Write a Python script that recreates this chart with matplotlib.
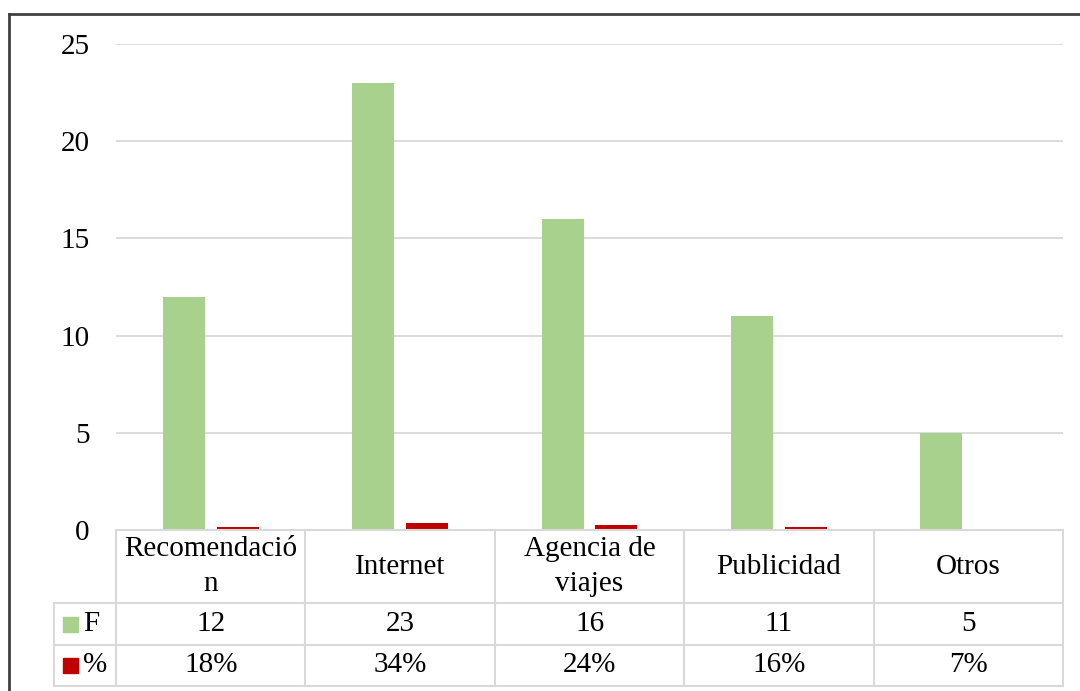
import matplotlib
matplotlib.use("Agg")
import matplotlib.pyplot as plt
import numpy as np
from matplotlib.patches import Rectangle
from matplotlib.lines import Line2D

categories = ["Recomendació\nn", "Internet", "Agencia de\nviajes", "Publicidad", "Otros"]
freq = [12, 23, 16, 11, 5]
pct = [0.18, 0.34, 0.24, 0.16, 0.07]
pct_labels = ["18%", "34%", "24%", "16%", "7%"]
series_names = ["F", "%"]
yticks = [0, 5, 10, 15, 20, 25]

GREEN = "#a9d18e"
RED = "#c00000"
GRID = "#d9d9d9"
FONT = "Liberation Serif"
FS = 21

W, H = 1080, 691
fig = plt.figure(figsize=(W / 100, H / 100), dpi=100)

def fx(px):
    return px / W

def fy(py):
    return 1 - py / H

left, right, top, bottom = 116, 1063, 44, 530
ax = fig.add_axes([fx(left), fy(bottom), fx(right) - fx(left), fy(top) - fy(bottom)])
x = np.arange(len(categories))
bw = 0.222
off = 0.142
ax.bar(x - off, freq, width=bw, color=GREEN, zorder=3)
ax.bar(x + off, pct, width=bw, color=RED, zorder=3)
ax.set_xlim(-0.5, len(categories) - 0.5)
ax.set_ylim(0, 25)
ax.set_yticks(yticks)
ax.set_yticklabels([str(v) for v in yticks], fontfamily=FONT, fontsize=FS)
ax.tick_params(axis="y", length=0, pad=19)
ax.set_xticks([])
for s in ax.spines.values():
    s.set_visible(False)
ax.yaxis.grid(True, color=GRID, linewidth=1.3, zorder=0)
ax.set_axisbelow(True)

# table
rows_y = [530, 603, 645, 686]
col_x = [left + i * (right - left) / 5 for i in range(6)]
lab_left = 54
lw = 1.5
fig.add_artist(Line2D([fx(left), fx(right)], [fy(rows_y[0])] * 2, color=GRID, lw=lw))
for yy in rows_y[1:]:
    fig.add_artist(Line2D([fx(lab_left), fx(right)], [fy(yy)] * 2, color=GRID, lw=lw))
fig.add_artist(Line2D([fx(lab_left)] * 2, [fy(rows_y[1]), fy(rows_y[3])], color=GRID, lw=lw))
for cx in col_x:
    fig.add_artist(Line2D([fx(cx)] * 2, [fy(rows_y[0]), fy(rows_y[3])], color=GRID, lw=lw))

for i, cat in enumerate(categories):
    cx = (col_x[i] + col_x[i + 1]) / 2
    fig.text(fx(cx), fy((rows_y[0] + rows_y[1]) / 2), cat, ha="center", va="center",
             fontfamily=FONT, fontsize=FS, linespacing=1.42)
    fig.text(fx(cx), fy((rows_y[1] + rows_y[2]) / 2), str(freq[i]), ha="center", va="center",
             fontfamily=FONT, fontsize=FS)
    fig.text(fx(cx), fy((rows_y[2] + rows_y[3]) / 2), pct_labels[i], ha="center", va="center",
             fontfamily=FONT, fontsize=FS)

for r, (name, col) in enumerate(zip(series_names, [GREEN, RED])):
    yc = (rows_y[1 + r] + rows_y[2 + r]) / 2
    fig.add_artist(Rectangle((fx(63), fy(yc + 7.5)), fx(15), 15 / H, color=col,
                             transform=fig.transFigure))
    fig.text(fx(83), fy(yc), name, ha="left", va="center", fontfamily=FONT, fontsize=FS)

# outer frame
fig.add_artist(Line2D([fx(9), fx(9)], [fy(13.5), 0], color="#404040", lw=2))
fig.add_artist(Line2D([fx(9), 1], [fy(13.5), fy(13.5)], color="#404040", lw=2))

fig.savefig("out.png", dpi=100)
